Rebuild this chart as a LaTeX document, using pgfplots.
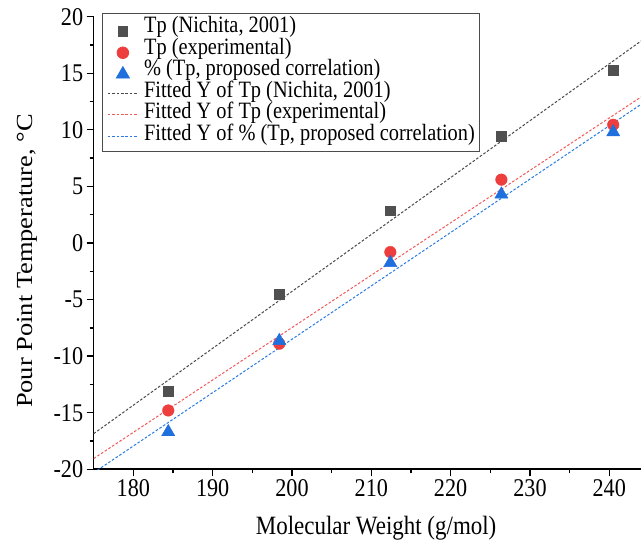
\documentclass[border=0pt]{standalone}
\usepackage{fontspec}
\setmainfont{Liberation Serif}[FakeStretch=0.87]
\newfontfamily\ylfont{Liberation Serif}[FakeStretch=1.15]
\usepackage{pgfplots}
\usepackage{pgfplotstable}
\pgfplotsset{compat=1.18}
\definecolor{sqc}{HTML}{505050}
\definecolor{rdc}{HTML}{EE3D3D}
\definecolor{blc}{HTML}{1F6FDD}
\definecolor{fk}{HTML}{4A4A4A}
\definecolor{fr}{HTML}{F05A5A}
\definecolor{fb}{HTML}{2A7BE4}
\pgfplotsset{
  markleg/.style={legend image code/.code={\draw[##1,mark repeat=2,mark phase=2] plot coordinates {(0pt,-2.5pt) (15pt,-2.5pt) (30pt,-2.5pt)};}},
  lineleg/.style={legend image code/.code={\draw[##1] (0pt,0pt) -- (30pt,0pt);}},
  fitline/.style={line width=1pt, dash pattern=on 2.6pt off 1.8pt, lineleg},
}
\pgfplotstableread{
x y
184.4 -13.1
198.4 -4.5
212.4 2.85
226.4 9.45
240.5 15.27
}\nichita
\pgfplotstableread{
x y
184.4 -14.8
198.4 -8.9
212.4 -0.8
226.4 5.6
240.5 10.45
}\experimental
\pgfplotstableread{
x y
184.4 -16.7
198.4 -8.65
212.4 -1.75
226.4 4.3
240.5 9.8
}\proposed
\begin{document}
\begin{tikzpicture}
\begin{axis}[name=ax, scale only axis, width=547.3pt, height=452.6pt,
  xmin=175, xmax=244, ymin=-20, ymax=20,
  axis x line=bottom, axis y line=left,
  axis line style={-, line width=1.6pt, black},
  xtick={180,190,...,240}, ytick={-20,-15,...,20},
  minor x tick num=1, minor y tick num=1,
  tick align=outside, major tick length=7pt, minor tick length=4pt,
  every tick/.style={black, line width=1.3pt},
  /pgf/number format/assume math mode=true,
  ticklabel style={font=\fontsize{25.5}{28}\selectfont},
  xlabel={Molecular Weight (g/mol)},
  ylabel={Pour Point Temperature, °C},
  xlabel style={font=\fontsize{26.4}{30}\selectfont, at={(axis description cs:0.516,-0.1297)}, anchor=center},
  ylabel style={font=\ylfont\fontsize{23}{26}\selectfont, at={(axis description cs:-0.1219,0.46)}, anchor=center},
  legend style={at={(axis description cs:0.0157,1.0075)}, anchor=north west,
    draw=black!70, line width=0.8pt, font=\fontsize{23.4}{25}\selectfont,
    inner xsep=4.7pt, inner ysep=4.3pt, row sep=0pt,
    nodes={inner sep=0pt, text height=15pt, text depth=6.5pt},
    /tikz/every odd column/.append style={column sep=5.7pt}},
  legend cell align=left,
]
\addplot[fitline, color=fk, forget plot] coordinates {(175,-16.85) (244,17.85)};
\addplot[fitline, color=fr, forget plot] coordinates {(175,-19.05) (244,12.9)};
\addplot[fitline, color=fb, forget plot] coordinates {(175,-20.3) (244,12.25)};
\addplot[only marks, mark=square*, mark size=4.8pt, color=sqc, markleg] table[x=x,y=y] {\nichita};
\addlegendentry{Tp (Nichita, 2001)}
\addplot[only marks, mark=*, mark size=5.8pt, color=rdc, markleg] table[x=x,y=y] {\experimental};
\addlegendentry{Tp (experimental)}
\addplot[only marks, mark=triangle*, mark size=7.6pt, color=blc, markleg] table[x=x,y=y] {\proposed};
\addlegendentry{\% (Tp, proposed correlation)}
\addlegendimage{fitline, color=fk}
\addlegendentry{Fitted Y of Tp (Nichita, 2001)}
\addlegendimage{fitline, color=fr}
\addlegendentry{Fitted Y of Tp (experimental)}
\addlegendimage{fitline, color=fb}
\addlegendentry{Fitted Y of \% (Tp, proposed correlation)}
\end{axis}
\pgfresetboundingbox
\path ([xshift=-93.7pt,yshift=-77.7pt]ax.south west) rectangle ([yshift=16.7pt]ax.north east);
\end{tikzpicture}
\end{document}
